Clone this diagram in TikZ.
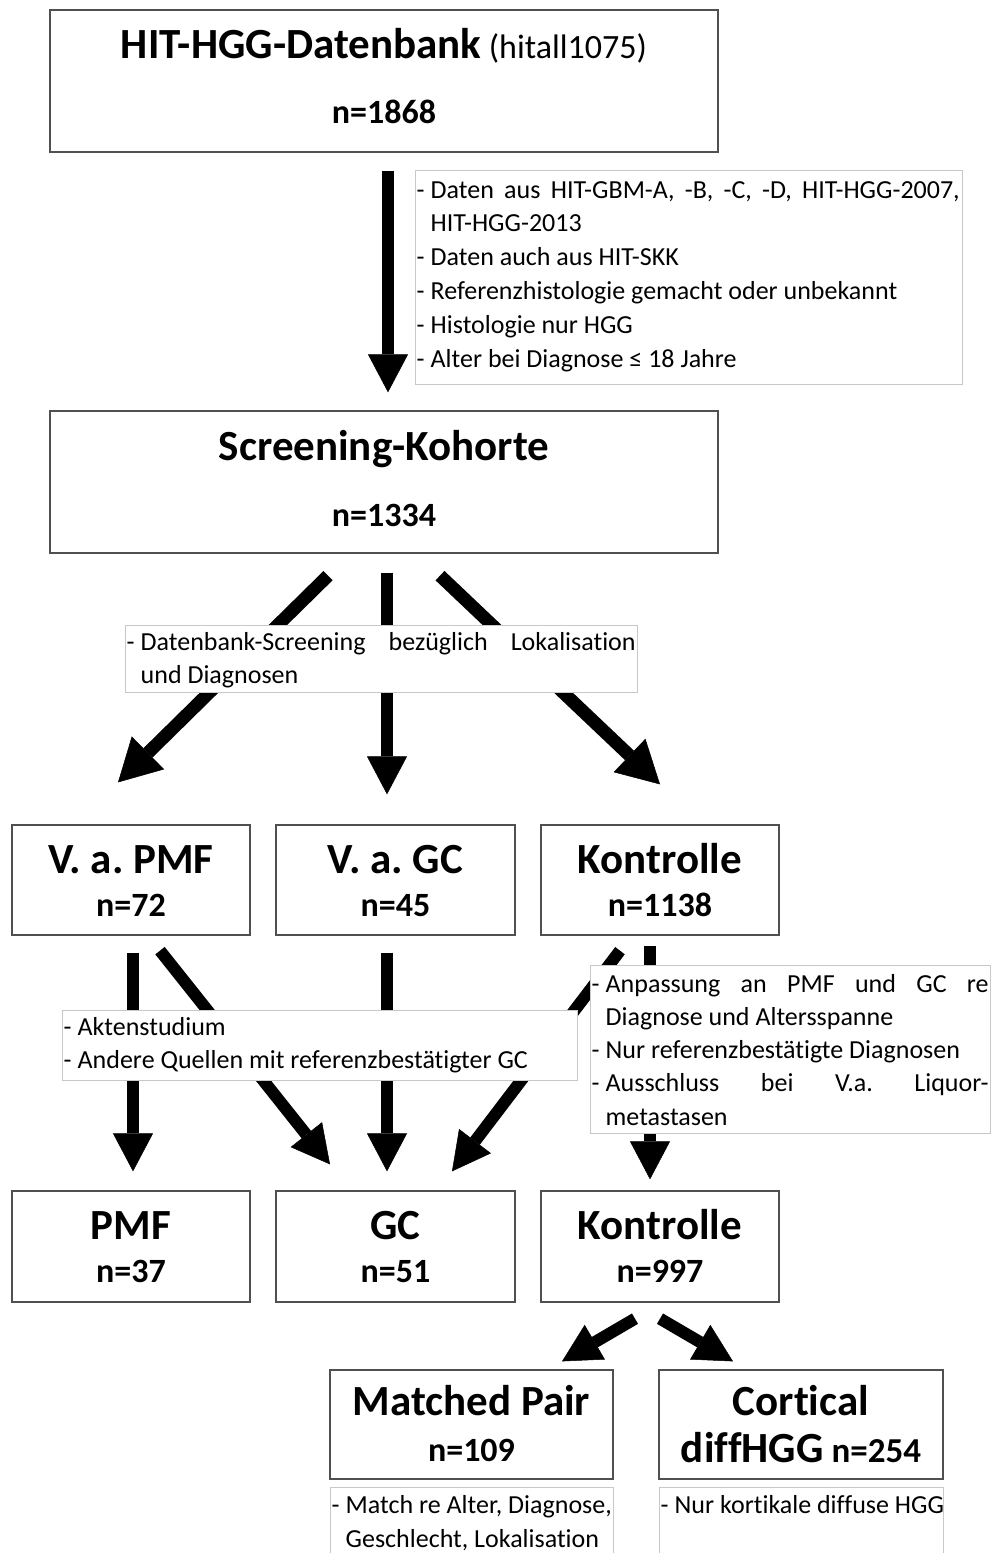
\documentclass[tikz,border=0pt]{standalone}
\usepackage{fontspec}
\setmainfont{Carlito}[Ligatures=CommonOff]
\usetikzlibrary{arrows.meta,calc}
\definecolor{boxgray}{RGB}{80,80,80}
\definecolor{notegray}{RGB}{200,200,200}
\newcommand\nlines[2]{\vtop{\baselineskip=#1\relax #2}}
\newcommand\nd{\makebox[14pt][l]{-}}
\newcommand\jl[2]{\hbox to #1{#2}}
\newcommand\pl[1]{\hbox{#1}}
\frenchspacing
\begin{document}
\frenchspacing
\begin{tikzpicture}[x=1pt,y=-1pt,
  box/.style={draw=boxgray,line width=1.3pt,fill=white,inner sep=0pt},
  notebox/.style={draw=notegray,line width=1pt,fill=white,inner sep=0pt},
  ttl/.style={font=\bfseries\fontsize{43}{50}\selectfont\frenchspacing,anchor=base,inner sep=0pt},
  num/.style={font=\bfseries\fontsize{34}{40}\selectfont,anchor=base,inner sep=0pt},
  notetxt/.style={font=\fontsize{26}{33}\selectfont\frenchspacing,anchor=base west,inner sep=0pt},
  bigarr/.style={line width=12pt,-{Triangle[width=40pt,length=38pt,line width=0.5pt]}},
  widearr/.style={line width=13pt,-{Triangle[width=46pt,length=42pt,line width=0.5pt]}}]
\useasboundingbox (0,0) rectangle (993,1553);
% main boxes
\node[box,minimum width=668pt,minimum height=142pt] (db) at (384,81) {};
\node[box,minimum width=668pt,minimum height=142pt] (sk) at (384,482) {};
\node[box,minimum width=238pt,minimum height=110pt] (vpmf) at (131,880) {};
\node[box,minimum width=239pt,minimum height=110pt] (vgc) at (395.5,880) {};
\node[box,minimum width=238pt,minimum height=110pt] (kon1) at (660,880) {};
\node[box,minimum width=238pt,minimum height=111pt] (pmf) at (131,1246.5) {};
\node[box,minimum width=239pt,minimum height=111pt] (gc) at (395.5,1246.5) {};
\node[box,minimum width=238pt,minimum height=111pt] (kon2) at (660,1246.5) {};
\node[box,minimum width=283pt,minimum height=109pt] (mp) at (471.5,1424.5) {};
\node[box,minimum width=284pt,minimum height=109pt] (cd) at (801,1424.5) {};
% box texts
\node[ttl] (db-t) at (384,58.5) {HIT-HGG-Datenbank{\mdseries\fontsize{34}{40}\selectfont\ (hitall1075)}};
\node[num] (db-n) at (384,123) {n=1868};
\node[ttl] (sk-t) at (384,460.5) {Screening-Kohorte};
\node[num] (sk-n) at (384,526) {n=1334};
\node[ttl] (vpmf-t) at (131,873) {V. a. PMF};
\node[num] (vpmf-n) at (131,916) {n=72};
\node[ttl] (vgc-t) at (395.5,873) {V. a. GC};
\node[num] (vgc-n) at (395.5,916) {n=45};
\node[ttl] (kon1-t) at (660,873) {Kontrolle};
\node[num] (kon1-n) at (660,916) {n=1138};
\node[ttl] (pmf-t) at (131,1239) {PMF};
\node[num] (pmf-n) at (131,1282) {n=37};
\node[ttl] (gc-t) at (395.5,1239) {GC};
\node[num] (gc-n) at (395.5,1282) {n=51};
\node[ttl] (kon2-t) at (660,1239) {Kontrolle};
\node[num] (kon2-n) at (660,1282) {n=997};
\node[ttl] (mp-t) at (471.5,1415) {Matched Pair};
\node[num] (mp-n) at (471.5,1461) {n=109};
\node[ttl] (cd-t) at (801,1415) {Cortical};
\node[ttl] (cd-n) at (801,1462) {diffHGG{\fontsize{35}{40}\selectfont\ n=254}};
% arrows
\draw[bigarr] ($(db.south)+(4,18)$) -- ($(sk.north)+(4,-18)$);
\draw[bigarr] ($(sk.south)+(3,19)$) -- ($(vgc.north)+(-8.5,-30)$);
\draw[widearr] ($(sk.south)+(-56,22)$) -- ($(vpmf.north)+(-13,-42)$);
\draw[widearr] ($(sk.south)+(56,22)$) -- ($(kon1.north)+(0,-40)$);
\draw[bigarr] ($(vpmf.south)+(2,17)$) -- ($(pmf.north)+(2,-19)$);
\draw[bigarr] ($(vpmf.south)+(29,15)$) -- ($(gc.north)+(-65.5,-26)$);
\draw[bigarr] ($(vgc.south)+(-8.5,17)$) -- ($(gc.north)+(-8.5,-19)$);
\draw[bigarr] ($(kon1.south)+(-40,15)$) -- ($(gc.north)+(56.5,-19)$);
\draw[bigarr] ($(kon1.south)+(-10,10)$) -- ($(kon2.north)+(-10,-11)$);
\draw[bigarr] ($(kon2.south)+(-25,16)$) -- ($(mp.north)+(90.5,-8)$);
\draw[bigarr] ($(kon2.south)+(0,16)$) -- ($(cd.north)+(-68,-8)$);
% notes
\node[notebox,minimum width=547pt,minimum height=214pt] (n1) at (688.5,277) {};
\node[notetxt] (n1-t) at ($(n1.north west)+(2,28.5)$) {\nlines{33.8pt}{%
  \jl{543pt}{\nd Daten aus HIT-GBM-A, -B, -C, -D, HIT-HGG-2007,}
  \pl{\hspace*{14pt}HIT-HGG-2013}
  \pl{\nd Daten auch aus HIT-SKK}
  \pl{\nd Referenzhistologie gemacht oder unbekannt}
  \pl{\nd Histologie nur HGG}
  \pl{\nd Alter bei Diagnose ≤ 18 Jahre}}};
\node[notebox,minimum width=512pt,minimum height=67pt] (n2) at (381,658.5) {};
\node[notetxt] (n2-t) at ($(n2.north west)+(2,25.5)$) {\nlines{33pt}{%
  \jl{509pt}{\nd Datenbank-Screening bezüglich Lokalisation}
  \pl{\hspace*{14pt}und Diagnosen}}};
\node[notebox,minimum width=515pt,minimum height=70pt] (n3) at (319.5,1045) {};
\node[notetxt] (n3-t) at ($(n3.north west)+(2,25.5)$) {\nlines{33pt}{%
  \pl{\nd Aktenstudium}
  \pl{\nd Andere Quellen mit referenzbestätigter GC}}};
\node[notebox,minimum width=400pt,minimum height=168pt] (n4) at (790,1049) {};
\node[notetxt] (n4-t) at ($(n4.north west)+(2,27.5)$) {\nlines{33.3pt}{%
  \jl{397pt}{\nd Anpassung an PMF und GC re}
  \pl{\hspace*{14pt}Diagnose und Altersspanne}
  \pl{\nd Nur referenzbestätigte Diagnosen}
  \jl{397pt}{\nd Ausschluss bei V.a. Liquor-}
  \pl{\hspace*{14pt}metastasen}}};
\node[notebox,minimum width=283pt,minimum height=78pt] (n5) at (471.5,1526) {};
\node[notetxt] (n5-t) at ($(n5.north west)+(2,26.5)$) {\nlines{34pt}{%
  \pl{\nd Match re Alter, Diagnose,}
  \pl{\hspace*{14pt}Geschlecht, Lokalisation}}};
\node[notebox,minimum width=284pt,minimum height=78pt] (n6) at (801,1526) {};
\node[notetxt] (n6-t) at ($(n6.north west)+(2,26.5)$) {\nlines{34pt}{%
  \pl{\nd Nur kortikale diffuse HGG}}};
\end{tikzpicture}
\end{document}
